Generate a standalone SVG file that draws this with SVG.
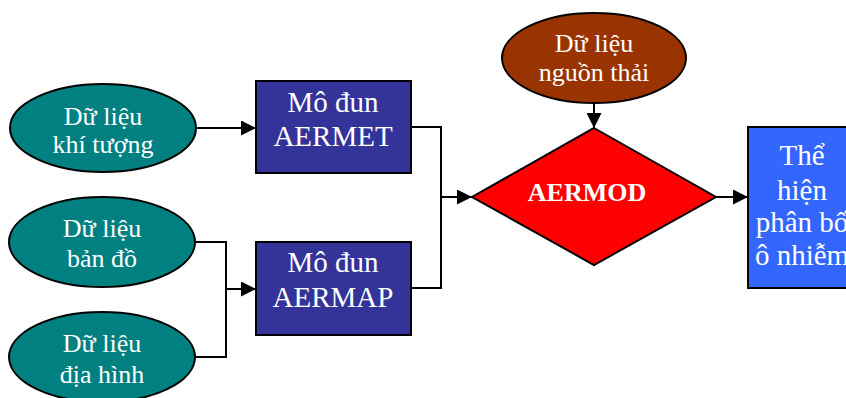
<svg xmlns="http://www.w3.org/2000/svg" width="846" height="398" viewBox="0 0 846 398">
<style>
.t{font-family:"Liberation Serif","Times New Roman",serif;fill:#fff;text-anchor:middle}
.e{font-size:26px}
.b{font-size:29px}
.sh{stroke:#000;stroke-width:2}
.ln{fill:none;stroke:#000;stroke-width:2}
</style>
<defs>
<marker id="ah" markerWidth="15" markerHeight="15" refX="15" refY="7.5" orient="auto" markerUnits="userSpaceOnUse">
<path d="M0,0 L15,7.5 L0,15 Z" fill="#000"/>
</marker>
</defs>
<rect width="846" height="398" fill="#fff"/>
<g id="connectors">
<path class="ln" d="M197,128 L256,128" marker-end="url(#ah)"/>
<path class="ln" d="M195,242 L226,242 L226,357 L195,357"/>
<path class="ln" d="M226,289 L256,289" marker-end="url(#ah)"/>
<path class="ln" d="M411,127 L441,127 L441,288 L411,288"/>
<path class="ln" d="M441,197 L472,197" marker-end="url(#ah)"/>
<path class="ln" d="M594,103 L594,128" marker-end="url(#ah)"/>
<path class="ln" d="M716,197 L748,197" marker-end="url(#ah)"/>
</g>
<g id="n_khituong">
<ellipse class="sh" cx="103" cy="128" rx="93" ry="44" fill="#008080"/>
<text class="t e" x="103" y="125">Dữ liệu</text>
<text class="t e" x="103" y="153">khí tượng</text>
</g>
<g id="n_bando">
<ellipse class="sh" cx="102" cy="242" rx="93" ry="45" fill="#008080"/>
<text class="t e" x="102" y="237">Dữ liệu</text>
<text class="t e" x="102" y="267">bản đồ</text>
</g>
<g id="n_diahinh">
<ellipse class="sh" cx="102" cy="357" rx="93" ry="45" fill="#008080"/>
<text class="t e" x="102" y="352">Dữ liệu</text>
<text class="t e" x="102" y="383">địa hình</text>
</g>
<g id="n_aermet">
<rect class="sh" x="256" y="81" width="155" height="92" fill="#333399"/>
<text class="t b" x="333" y="112">Mô đun</text>
<text class="t b" x="333" y="146">AERMET</text>
</g>
<g id="n_aermap">
<rect class="sh" x="256" y="242" width="155" height="93" fill="#333399"/>
<text class="t b" x="333" y="272">Mô đun</text>
<text class="t b" x="333" y="307">AERMAP</text>
</g>
<g id="n_nguonthai">
<ellipse class="sh" cx="594" cy="58" rx="92" ry="45" fill="#993300"/>
<text class="t e" x="594" y="52">Dữ liệu</text>
<text class="t e" x="594" y="81">nguồn thải</text>
</g>
<g id="n_aermod">
<polygon class="sh" points="594,128 716,197 594,265 472,197" fill="#ff0000"/>
<text class="t" x="587" y="201" font-size="26" font-weight="bold">AERMOD</text>
</g>
<g id="n_thehien">
<rect class="sh" x="748" y="127" width="110" height="161" fill="#3366ff"/>
<text class="t b" x="802" y="165">Thể</text>
<text class="t b" x="802" y="200">hiện</text>
<text class="t b" x="802" y="232">phân bố</text>
<text class="t b" x="802" y="265">ô nhiễm</text>
</g>
</svg>
